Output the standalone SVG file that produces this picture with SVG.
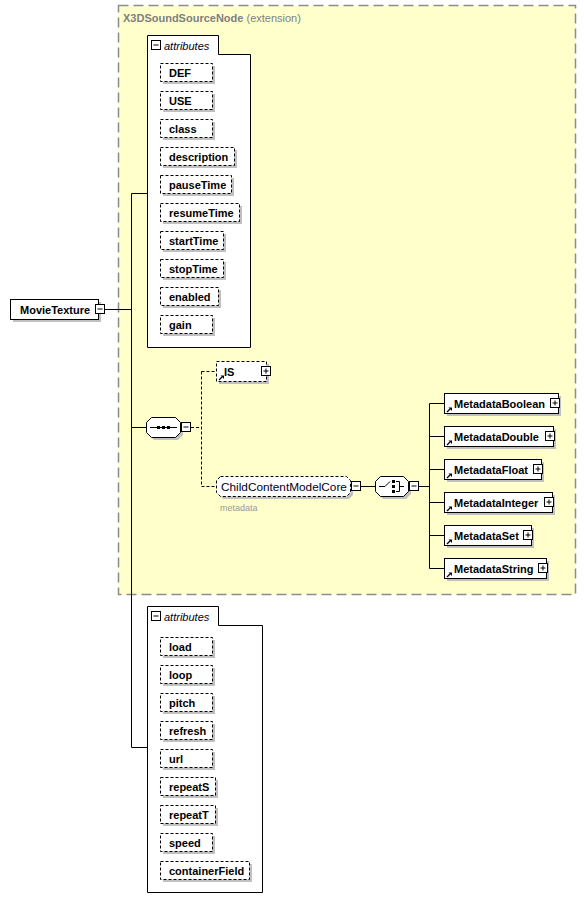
<svg xmlns="http://www.w3.org/2000/svg" xmlns:xlink="http://www.w3.org/1999/xlink" width="586" height="908" viewBox="0 0 586 908">
<style>
.ext{fill:#ffffcc;stroke:#8c8c8c;stroke-width:1.5;stroke-dasharray:10 5}
.box{fill:#fff;stroke:#000;stroke-width:1}
.dbox{fill:#fff;stroke:#000;stroke-width:1;stroke-dasharray:3 2}
.sh{fill:#c0c0c0}
.ln{stroke:#000;stroke-width:1;fill:none}
.dln{stroke:#000;stroke-width:1;fill:none;stroke-dasharray:3 2}
.t{font-family:"Liberation Sans",Arial,sans-serif;font-size:11px;font-weight:bold;fill:#000}
.tn{font-family:"Liberation Sans",Arial,sans-serif;font-size:11.8px;fill:#000020}
.ti{font-family:"Liberation Sans",Arial,sans-serif;font-size:11px;font-style:italic;fill:#000020}
.tg{font-family:"Liberation Sans",Arial,sans-serif;font-size:11px;fill:#808080}
.tm{font-family:"Liberation Sans",Arial,sans-serif;font-size:9px;fill:#999}
</style>
<defs>
<g id="minus"><rect x="0.5" y="0.5" width="9" height="9" fill="#fff" stroke="#000"/><path d="M2.5 5H7.5" stroke="#000"/></g>
<g id="plus"><rect x="0.5" y="0.5" width="9" height="9" fill="#fff" stroke="#000"/><path d="M2.5 5H7.5M5 2.5V7.5" stroke="#000"/></g>
<g id="ref"><path d="M1 6L4 3" stroke="#000" stroke-width="1.2"/><polygon points="2.5,1.5 6,1.5 6,5" fill="#000"/></g>
</defs>

<g id="extension">
<rect class="ext" x="118.5" y="5.5" width="457" height="589"/>
<text x="123" y="22" class="tg"><tspan font-weight="bold">X3DSoundSourceNode</tspan> (extension)</text>
</g>

<g id="connectors">
<path class="ln" d="M105 309.5H131.5M131.5 193.5V747.5M131.5 193.5H147.5M131.5 427.5H146M131.5 747.5H147.5"/>
<path class="dln" d="M191 427.5H201.5M201.5 371.5V486.5M201.5 371.5H216.5M201.5 486.5H216.5"/>
<path class="ln" d="M361 486.5H375M419 486.5H429.5M429.5 403.5V568.5M429.5 403.5H444M429.5 436.5H444M429.5 469.5H444M429.5 502.5H444M429.5 535.5H444M429.5 568.5H444"/>
</g>

<g id="MovieTexture">
<rect class="sh" x="13" y="302" width="88" height="20"/>
<rect class="box" x="10.5" y="299.5" width="88" height="20"/>
<text x="20" y="313.5" class="t">MovieTexture</text>
<use xlink:href="#minus" x="95" y="304"/>
</g>

<g id="attributes1">
<polygon class="box" points="147.5,35.5 218.5,35.5 218.5,54.5 250.5,54.5 250.5,347.5 147.5,347.5"/>
<use xlink:href="#minus" x="151" y="40"/>
<text x="164" y="50" class="ti">attributes</text>
<g id="attr-DEF"><rect class="sh" x="163" y="66" width="52" height="18"/><rect class="dbox" x="160.5" y="63.5" width="52" height="18"/><text x="169" y="77" class="t">DEF</text></g>
<g id="attr-USE"><rect class="sh" x="163" y="94" width="52" height="18"/><rect class="dbox" x="160.5" y="91.5" width="52" height="18"/><text x="169" y="105" class="t">USE</text></g>
<g id="attr-class"><rect class="sh" x="163" y="122" width="52" height="18"/><rect class="dbox" x="160.5" y="119.5" width="52" height="18"/><text x="169" y="133" class="t">class</text></g>
<g id="attr-description"><rect class="sh" x="163" y="150" width="74" height="18"/><rect class="dbox" x="160.5" y="147.5" width="74" height="18"/><text x="169" y="161" class="t">description</text></g>
<g id="attr-pauseTime"><rect class="sh" x="163" y="178" width="71" height="18"/><rect class="dbox" x="160.5" y="175.5" width="71" height="18"/><text x="169" y="189" class="t">pauseTime</text></g>
<g id="attr-resumeTime"><rect class="sh" x="163" y="206" width="79" height="18"/><rect class="dbox" x="160.5" y="203.5" width="79" height="18"/><text x="169" y="217" class="t">resumeTime</text></g>
<g id="attr-startTime"><rect class="sh" x="163" y="234" width="63" height="18"/><rect class="dbox" x="160.5" y="231.5" width="63" height="18"/><text x="169" y="245" class="t">startTime</text></g>
<g id="attr-stopTime"><rect class="sh" x="163" y="262" width="63" height="18"/><rect class="dbox" x="160.5" y="259.5" width="63" height="18"/><text x="169" y="273" class="t">stopTime</text></g>
<g id="attr-enabled"><rect class="sh" x="163" y="290" width="58" height="18"/><rect class="dbox" x="160.5" y="287.5" width="58" height="18"/><text x="169" y="301" class="t">enabled</text></g>
<g id="attr-gain"><rect class="sh" x="163" y="318" width="52" height="18"/><rect class="dbox" x="160.5" y="315.5" width="52" height="18"/><text x="169" y="329" class="t">gain</text></g>
</g>

<g id="sequence">
<polygon class="sh" points="154,420 178,420 183,425 183,435 178,440 154,440 149,435 149,425"/>
<polygon class="box" points="151.5,417.5 175.5,417.5 180.5,422.5 180.5,432.5 175.5,437.5 151.5,437.5 146.5,432.5 146.5,422.5"/>
<path class="ln" d="M150 427.5H177"/>
<rect x="157" y="426" width="3" height="3" fill="#000"/><rect x="162" y="426" width="3" height="3" fill="#000"/><rect x="167" y="426" width="3" height="3" fill="#000"/>
<use xlink:href="#minus" x="181" y="422"/>
</g>

<g id="IS">
<rect class="sh" x="219" y="364" width="50" height="20"/>
<rect class="dbox" x="216.5" y="361.5" width="50" height="20"/>
<use xlink:href="#ref" x="218" y="374"/>
<text x="224" y="376" class="t">IS</text>
<use xlink:href="#plus" x="261" y="366"/>
</g>

<g id="ChildContentModelCore">
<polygon class="sh" points="223,479 349,479 353,483 353,495 349,499 223,499 219,495 219,483"/>
<polygon class="dbox" points="220.5,476.5 346.5,476.5 350.5,480.5 350.5,492.5 346.5,496.5 220.5,496.5 216.5,492.5 216.5,480.5"/>
<text x="221" y="490.5" class="tn">ChildContentModelCore</text>
<use xlink:href="#minus" x="351" y="481"/>
<text x="220" y="511" class="tm">metadata</text>
</g>

<g id="choice">
<polygon class="sh" points="383,479 406,479 411,484 411,494 406,499 383,499 378,494 378,484"/>
<polygon class="box" points="380.5,476.5 403.5,476.5 408.5,481.5 408.5,491.5 403.5,496.5 380.5,496.5 375.5,491.5 375.5,481.5"/>
<path class="ln" d="M379 486.5H385L390 481.5M396 481.5H399.5V491.5H396M399.5 486.5H404"/>
<rect x="392" y="480" width="3" height="3" fill="#000"/><rect x="392" y="485" width="3" height="3" fill="#000"/><rect x="392" y="490" width="3" height="3" fill="#000"/>
<use xlink:href="#minus" x="409" y="481"/>
</g>

<g id="MetadataBoolean">
<rect class="sh" x="447" y="396" width="114" height="20"/>
<rect class="box" x="444.5" y="393.5" width="114" height="20"/>
<use xlink:href="#ref" x="446" y="406"/>
<text x="454" y="407.5" class="t">MetadataBoolean</text>
<use xlink:href="#plus" x="550" y="398"/>
</g>
<g id="MetadataDouble">
<rect class="sh" x="447" y="429" width="109" height="20"/>
<rect class="box" x="444.5" y="426.5" width="109" height="20"/>
<use xlink:href="#ref" x="446" y="439"/>
<text x="454" y="440.5" class="t">MetadataDouble</text>
<use xlink:href="#plus" x="545" y="431"/>
</g>
<g id="MetadataFloat">
<rect class="sh" x="447" y="462" width="97" height="20"/>
<rect class="box" x="444.5" y="459.5" width="97" height="20"/>
<use xlink:href="#ref" x="446" y="472"/>
<text x="454" y="473.5" class="t">MetadataFloat</text>
<use xlink:href="#plus" x="533" y="464"/>
</g>
<g id="MetadataInteger">
<rect class="sh" x="447" y="495" width="108" height="20"/>
<rect class="box" x="444.5" y="492.5" width="108" height="20"/>
<use xlink:href="#ref" x="446" y="505"/>
<text x="454" y="506.5" class="t">MetadataInteger</text>
<use xlink:href="#plus" x="544" y="497"/>
</g>
<g id="MetadataSet">
<rect class="sh" x="447" y="528" width="87" height="20"/>
<rect class="box" x="444.5" y="525.5" width="87" height="20"/>
<use xlink:href="#ref" x="446" y="538"/>
<text x="454" y="539.5" class="t">MetadataSet</text>
<use xlink:href="#plus" x="523" y="530"/>
</g>
<g id="MetadataString">
<rect class="sh" x="447" y="561" width="102" height="20"/>
<rect class="box" x="444.5" y="558.5" width="102" height="20"/>
<use xlink:href="#ref" x="446" y="571"/>
<text x="454" y="572.5" class="t">MetadataString</text>
<use xlink:href="#plus" x="538" y="563"/>
</g>

<g id="attributes2">
<polygon class="box" points="147.5,606.5 218.5,606.5 218.5,625.5 262.5,625.5 262.5,892.5 147.5,892.5"/>
<use xlink:href="#minus" x="151" y="611"/>
<text x="164" y="621" class="ti">attributes</text>
<g id="attr-load"><rect class="sh" x="163" y="640" width="52" height="18"/><rect class="dbox" x="160.5" y="637.5" width="52" height="18"/><text x="169" y="651" class="t">load</text></g>
<g id="attr-loop"><rect class="sh" x="163" y="668" width="52" height="18"/><rect class="dbox" x="160.5" y="665.5" width="52" height="18"/><text x="169" y="679" class="t">loop</text></g>
<g id="attr-pitch"><rect class="sh" x="163" y="696" width="52" height="18"/><rect class="dbox" x="160.5" y="693.5" width="52" height="18"/><text x="169" y="707" class="t">pitch</text></g>
<g id="attr-refresh"><rect class="sh" x="163" y="724" width="52" height="18"/><rect class="dbox" x="160.5" y="721.5" width="52" height="18"/><text x="169" y="735" class="t">refresh</text></g>
<g id="attr-url"><rect class="sh" x="163" y="752" width="52" height="18"/><rect class="dbox" x="160.5" y="749.5" width="52" height="18"/><text x="169" y="763" class="t">url</text></g>
<g id="attr-repeatS"><rect class="sh" x="163" y="780" width="55" height="18"/><rect class="dbox" x="160.5" y="777.5" width="55" height="18"/><text x="169" y="791" class="t">repeatS</text></g>
<g id="attr-repeatT"><rect class="sh" x="163" y="808" width="55" height="18"/><rect class="dbox" x="160.5" y="805.5" width="55" height="18"/><text x="169" y="819" class="t">repeatT</text></g>
<g id="attr-speed"><rect class="sh" x="163" y="836" width="52" height="18"/><rect class="dbox" x="160.5" y="833.5" width="52" height="18"/><text x="169" y="847" class="t">speed</text></g>
<g id="attr-containerField"><rect class="sh" x="163" y="864" width="89" height="18"/><rect class="dbox" x="160.5" y="861.5" width="89" height="18"/><text x="169" y="875" class="t">containerField</text></g>
</g>
</svg>
